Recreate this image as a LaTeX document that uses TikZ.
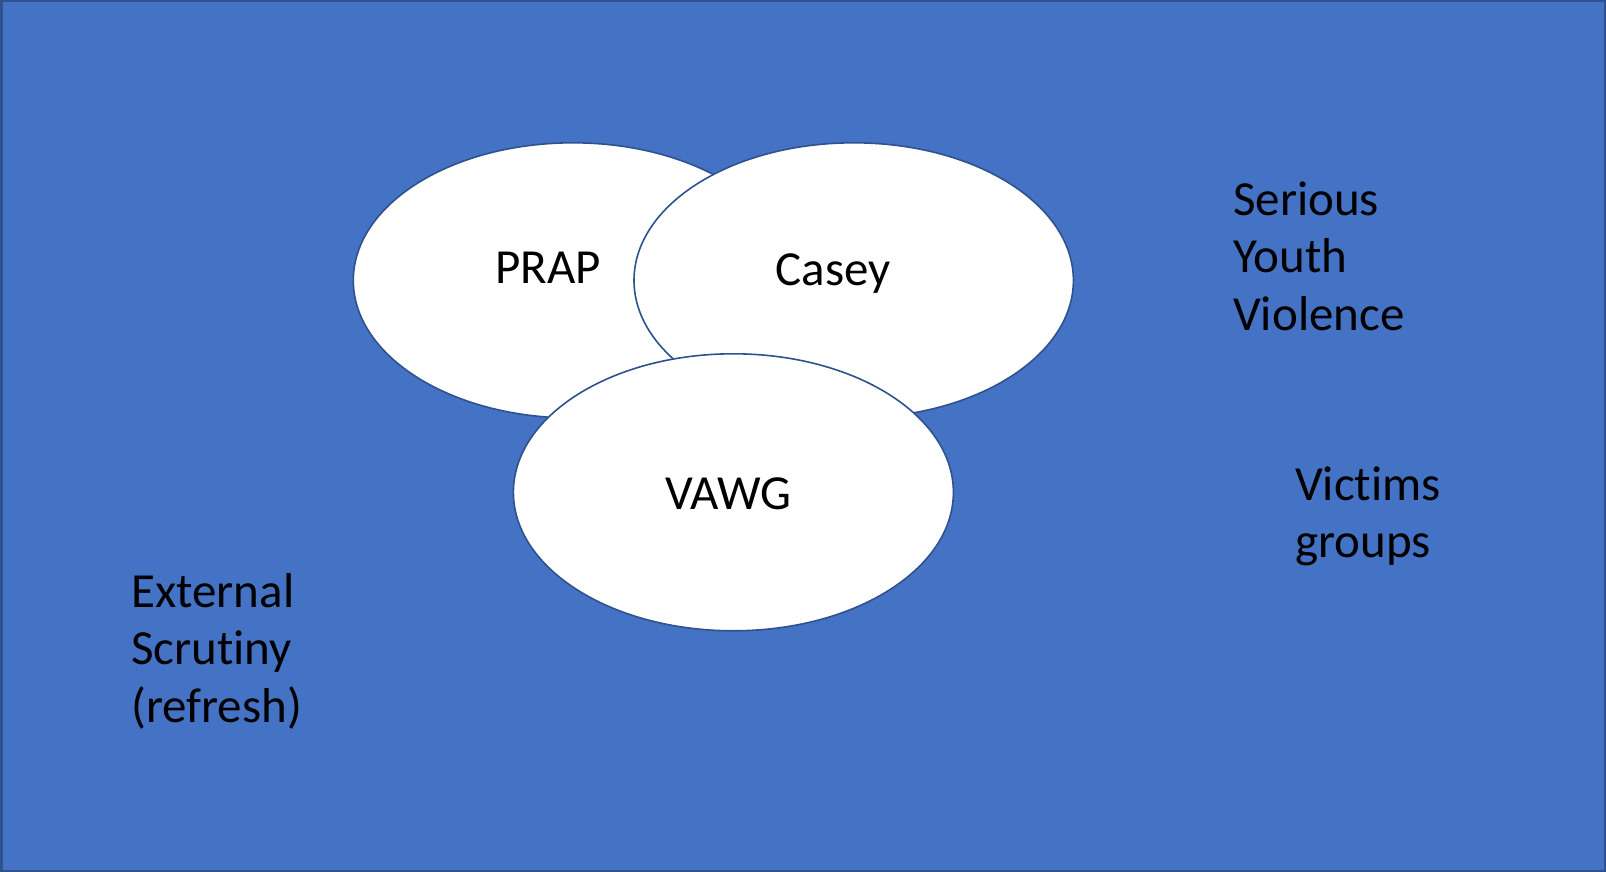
\documentclass[tikz,border=0pt]{standalone}
\usepackage{fontspec}
\setmainfont{Carlito}[Ligatures=NoCommon]
\usetikzlibrary{positioning}

\definecolor{panel}{HTML}{4472C4}
\definecolor{rim}{HTML}{2F528F}

\begin{document}
\begin{tikzpicture}[x=1pt, y=-1pt,
    bubble/.style={draw=rim, line width=1.6pt, fill=white},
    lbl/.style={inner sep=0pt, anchor=base, font=\fontsize{49}{57.5}\selectfont},
    side/.style={inner sep=0pt, anchor=base west, align=left, font=\fontsize{49}{57.5}\selectfont}]
        \useasboundingbox (0,0) rectangle (1606,872);

        % panel
        \draw[fill=panel, draw=rim, line width=2.5pt] (1.25,1.25) rectangle (1604.75,870.75);

        % circles
        \draw[bubble] (573,280.4) ellipse [x radius=219.7, y radius=137.6];
        \draw[bubble] (853.7,280.4) ellipse [x radius=219.7, y radius=137.6];
        \draw[bubble] (733.4,492.3) ellipse [x radius=220, y radius=138.5];

        \node (prap) at (548,283) [lbl] {PRAP};
        \node (casey) at (833,285) [lbl] {Casey};
        \node (vawg) at (728,509) [lbl] {VAWG};

        % outside (base = last line)
        \node (syv) at (1233,330) [side] {Serious\\Youth\\Violence};
        \node (victims) at (1295,557.5) [side] {Victims\\groups};
        \node (scrutiny) at (131,722) [side] {External\\Scrutiny\\(refresh)};
    \end{tikzpicture}
\end{document}
